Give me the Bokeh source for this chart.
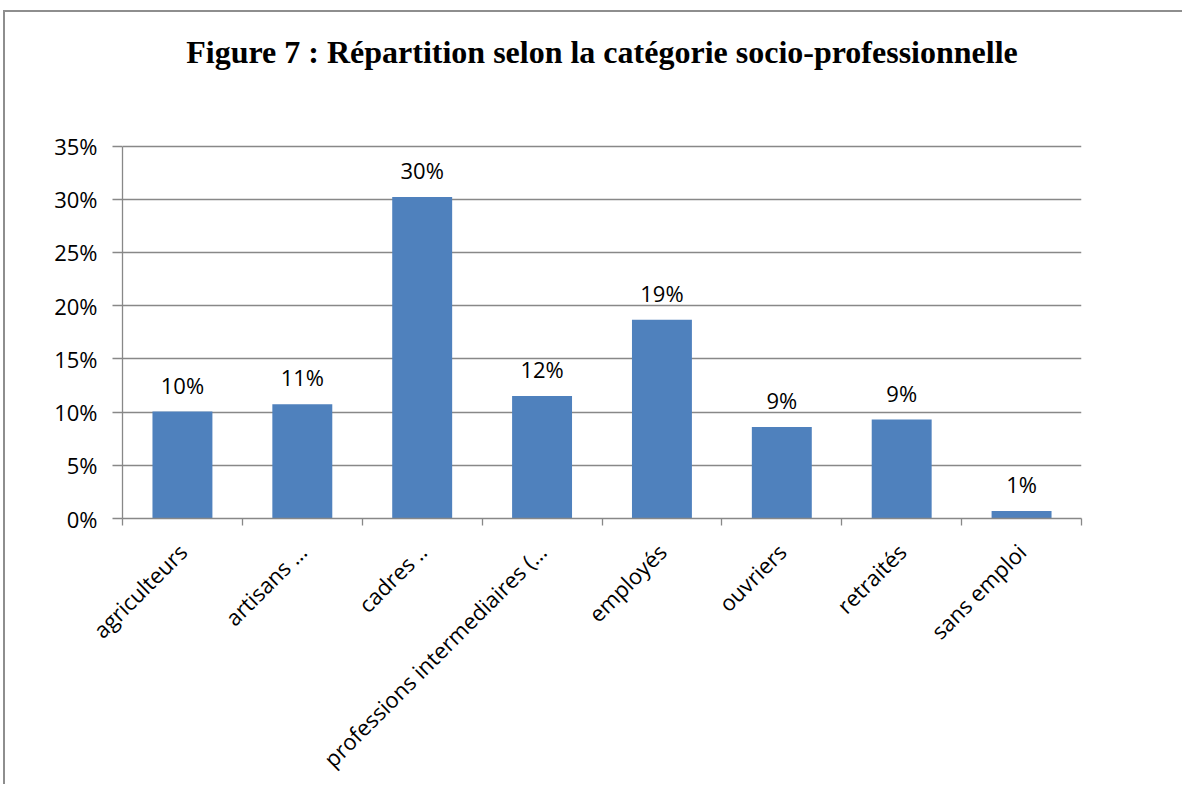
from bokeh.plotting import figure
from bokeh.models import (ColumnDataSource, Range1d, FixedTicker, NumeralTickFormatter,
                          LabelSet, Label)
from bokeh.core.properties import value
from bokeh.embed import file_html
from bokeh.resources import INLINE
import math

# ---- data ----
categories = ["agriculteurs", "artisans \u2026", "cadres ..", "professions intermediaires (\u2026",
              "employ\u00e9s", "ouvriers", "retrait\u00e9s", "sans emploi"]
shares = [0.1005, 0.1073, 0.302, 0.115, 0.1868, 0.086, 0.093, 0.007]
y_ticks = [0.0, 0.05, 0.10, 0.15, 0.20, 0.25, 0.30, 0.35]
title_text = "Figure 7 : R\u00e9partition selon la cat\u00e9gorie socio-professionnelle"

n = len(categories)
centers = [i + 0.5 for i in range(n)]
edges = list(range(n + 1))
labels = [f"{int(v * 100 + 0.5)}%" for v in shares]

BAR = "#4F81BD"
GRID = "#888888"
FONT = "Open Sans"

src = ColumnDataSource(dict(x=centers, val=shares, lab=labels))

W, H = 1179, 774
p = figure(width=W, height=H, x_range=Range1d(0, n), y_range=Range1d(0, 0.4745),
           output_backend="svg", toolbar_location=None,
           min_border_left=117, min_border_right=W - 1076, min_border_top=1,
           min_border_bottom=H - 506)
p.outline_line_color = None
p.background_fill_color = "white"
p.border_fill_color = "white"
p.xgrid.visible = False
# outer chart-area border (left and top edges only, as in the source image)
p.styles = {"margin-left": "3px", "margin-top": "10px",
            "border-left": "2px solid #8e8e8e", "border-top": "2px solid #8e8e8e",
            "border-right": "none", "border-bottom": "none", "overflow": "hidden"}

# y axis
ya = p.yaxis[0]
ya.ticker = FixedTicker(ticks=y_ticks)
ya.formatter = NumeralTickFormatter(format="0%")
ya.bounds = (0, 0.35)
ya.axis_line_color = GRID
ya.axis_line_width = 1.3
ya.major_tick_line_color = GRID
ya.major_tick_line_width = 1.3
ya.major_tick_out = 10
ya.major_tick_in = 0
ya.minor_tick_line_color = None
ya.major_label_text_font = FONT
ya.major_label_text_font_size = "22px"
ya.major_label_text_color = "black"
ya.major_label_standoff = 15

p.ygrid.ticker = FixedTicker(ticks=y_ticks)
p.ygrid.grid_line_color = GRID
p.ygrid.grid_line_width = 1.3

# x axis: labels at category centres, ticks at category edges
xa = p.xaxis[0]
xa.ticker = FixedTicker(ticks=centers, minor_ticks=edges)
xa.major_label_overrides = {c: name for c, name in zip(centers, categories)}
xa.major_label_orientation = math.pi / 4
xa.major_label_text_font = FONT
xa.major_label_text_font_size = "22px"
xa.major_label_text_color = "black"
xa.major_label_standoff = 22
xa.major_tick_line_color = None
xa.major_tick_out = 0
xa.major_tick_in = 0
xa.minor_tick_line_color = GRID
xa.minor_tick_line_width = 1.3
xa.minor_tick_out = 7
xa.minor_tick_in = 0
xa.axis_line_color = GRID
xa.axis_line_width = 1.3

# bars
p.vbar(x="x", top="val", bottom=0, width=0.5, source=src, fill_color=BAR, line_color=None)

# data labels
p.add_layout(LabelSet(x="x", y="val", text="lab", source=src, text_align="center",
                      text_baseline="alphabetic", y_offset=18, text_font=value(FONT),
                      text_font_size=value("22px"), text_color="black"))

# title
p.add_layout(Label(x=n / 2, y=0.4385, text=title_text,
                   text_align="center", text_baseline="alphabetic",
                   text_font="Liberation Serif", text_font_style="bold",
                   text_font_size="32px", text_color="black"))

open("out.html", "w").write(file_html(p, INLINE))
